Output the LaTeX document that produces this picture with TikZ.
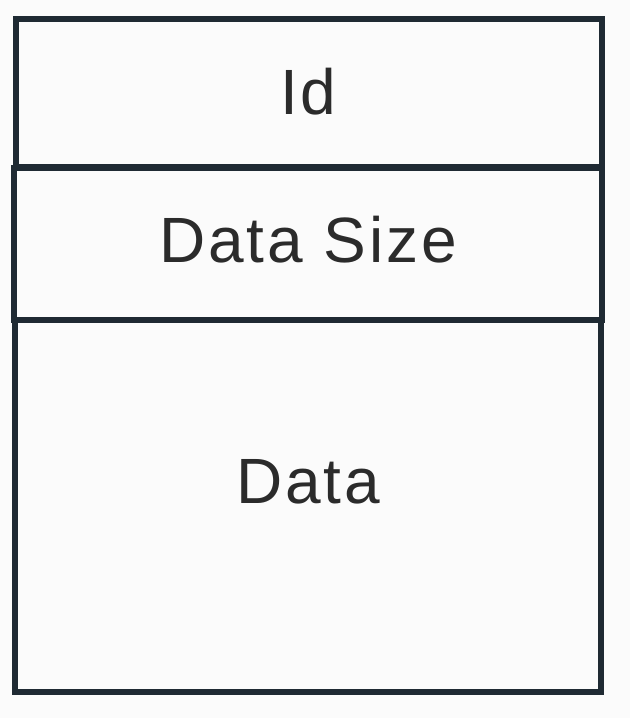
\documentclass[tikz,border=0pt]{standalone}
\usepackage{fontspec}
\setmainfont{Liberation Sans}[LetterSpace=4.5]
\usetikzlibrary{positioning}

\definecolor{edgecol}{HTML}{1F2A33}
\definecolor{textcol}{HTML}{2B2B2B}
\definecolor{bgcol}{HTML}{FBFBFB}

\tikzset{
  field/.style={draw=edgecol, line width=6pt, inner sep=0pt, outer sep=0pt,
    minimum width=586pt, font=\fontsize{64}{70}\selectfont, text=textcol},
}

\begin{document}
\begin{tikzpicture}[x=1pt,y=1pt]
\fill[bgcol] (0,0) rectangle (630,718);
\useasboundingbox (0,0) rectangle (630,718);
% three stacked fields
\node[field, minimum height=148pt, text height=45pt, text depth=2pt] (idbox) at (308.5,624.5) {Id};
\node[field, minimum height=152pt, minimum width=588pt, text height=40pt, text depth=2.5pt] (sizebox) at (308,474) {Data Size};
\node[field, minimum height=372pt, anchor=north, text height=0pt, text depth=4.5pt] (databox) at (sizebox.south) {Data};
\end{tikzpicture}
\end{document}
